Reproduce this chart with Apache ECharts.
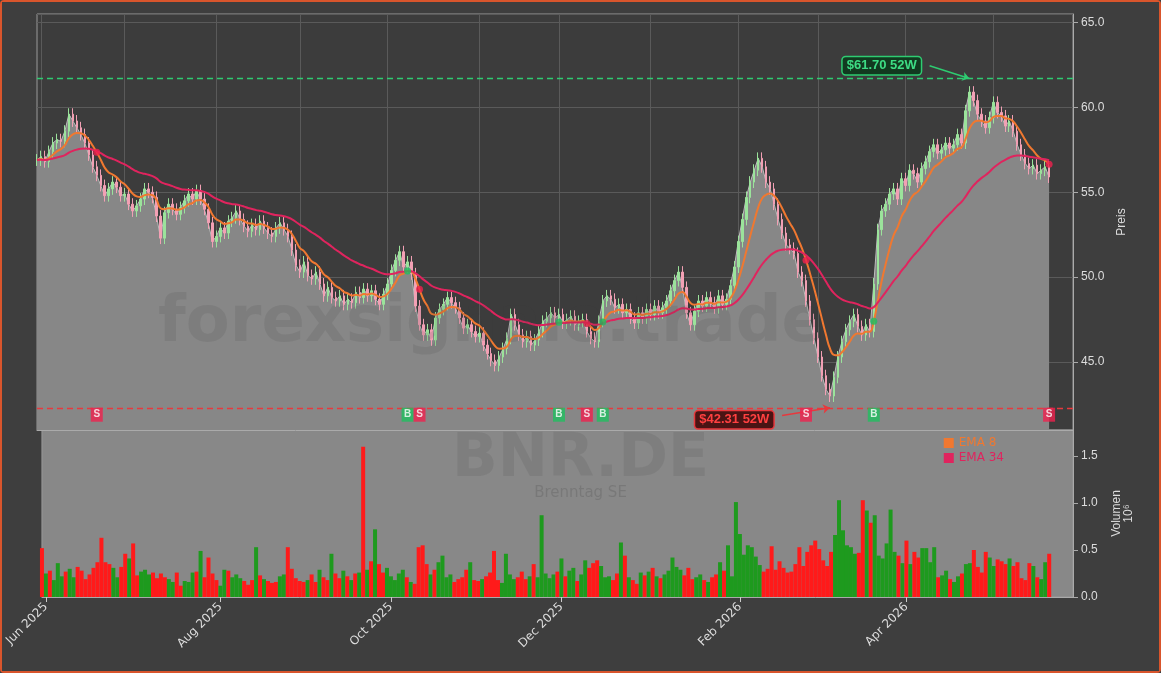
<!DOCTYPE html>
<html><head><meta charset="utf-8">
<script src="https://cdn.jsdelivr.net/npm/echarts@6/dist/echarts.min.js"></script>
<style>html,body{margin:0;padding:0;background:#3e3e3e}#c{width:1157px;height:669px;border:2px solid #d9552c;border-radius:4px}</style>
</head><body><div id="c"></div>
<script>
const closes=[56.9,57.1,56.8,57.4,57.9,58.1,58.0,58.6,59.6,59.2,
58.8,58.4,57.9,57.2,56.5,56.0,55.4,54.8,55.2,55.6,
55.3,54.8,54.9,54.3,53.9,54.2,54.6,55.2,55.0,54.7,
53.6,52.3,53.8,54.3,54.0,53.7,54.1,54.5,54.9,54.6,
55.1,54.6,54.0,53.2,52.1,52.4,52.9,52.6,53.3,53.5,
53.9,53.4,53.0,52.7,53.1,52.8,53.3,52.9,52.6,52.4,
52.9,53.2,52.8,52.4,51.6,50.7,50.3,50.9,50.1,49.9,
50.3,49.6,48.9,49.4,48.8,48.6,48.9,48.4,48.7,48.5,
49.1,48.8,49.3,48.9,49.2,48.7,48.4,49.0,49.6,50.4,
51.0,51.5,50.6,50.9,50.2,48.3,47.2,46.6,46.9,46.3,
47.6,48.1,48.4,48.8,48.5,48.2,47.6,47.0,47.2,46.8,
46.5,46.7,46.0,45.5,45.1,44.8,45.3,45.8,46.4,47.8,
47.2,46.6,46.2,46.5,46.0,46.3,46.8,47.4,47.6,47.9,
47.6,47.8,47.3,47.5,47.7,47.2,47.4,47.5,46.8,46.4,
46.2,47.4,48.6,48.9,48.7,48.2,48.4,47.9,48.1,47.6,
47.3,47.9,47.6,48.1,47.8,48.3,47.9,48.2,48.6,49.2,
49.8,50.3,49.4,47.9,47.2,48.0,48.6,48.3,48.8,48.5,
48.2,48.9,48.4,48.7,49.5,50.6,52.1,53.4,54.7,55.6,
56.3,57.0,56.5,55.6,55.2,54.3,53.4,52.6,51.9,51.7,
51.4,50.3,49.8,48.6,47.5,46.4,45.3,44.2,43.4,43.0,
44.1,45.3,46.2,46.9,47.4,47.8,47.1,46.6,47.2,46.8,
49.6,52.8,53.9,54.3,54.9,55.2,54.6,55.8,55.4,56.3,
56.1,55.6,56.4,56.8,57.4,57.8,57.3,57.5,57.9,57.6,
57.8,58.4,57.9,59.8,60.9,60.4,59.6,59.2,58.8,59.4,
60.3,59.7,59.5,58.9,59.2,58.6,57.8,57.2,56.7,56.4,
56.6,56.1,56.3,56.5,55.9];
const volumes=[0.52,0.25,0.28,0.18,0.36,0.22,0.27,0.30,0.21,0.32,
0.28,0.19,0.24,0.31,0.37,0.63,0.37,0.35,0.31,0.21,
0.32,0.46,0.41,0.57,0.23,0.27,0.29,0.24,0.26,0.20,
0.25,0.21,0.19,0.16,0.26,0.12,0.17,0.16,0.26,0.27,
0.49,0.21,0.42,0.25,0.18,0.12,0.29,0.28,0.21,0.24,
0.20,0.17,0.13,0.18,0.53,0.23,0.19,0.17,0.15,0.16,
0.22,0.24,0.53,0.30,0.20,0.17,0.16,0.18,0.24,0.16,
0.29,0.21,0.18,0.46,0.25,0.20,0.28,0.22,0.18,0.25,
0.26,1.60,0.29,0.38,0.72,0.35,0.26,0.31,0.22,0.18,
0.25,0.29,0.21,0.16,0.14,0.53,0.55,0.35,0.24,0.29,
0.37,0.44,0.21,0.24,0.16,0.19,0.21,0.29,0.37,0.18,
0.17,0.19,0.22,0.26,0.49,0.18,0.15,0.46,0.24,0.19,
0.21,0.27,0.19,0.22,0.35,0.21,0.87,0.25,0.20,0.24,
0.27,0.41,0.22,0.28,0.31,0.17,0.24,0.39,0.31,0.36,
0.39,0.33,0.21,0.22,0.18,0.25,0.58,0.44,0.21,0.18,
0.14,0.26,0.23,0.27,0.31,0.22,0.20,0.24,0.28,0.42,
0.32,0.29,0.23,0.31,0.19,0.21,0.24,0.18,0.16,0.21,
0.24,0.37,0.28,0.55,0.22,1.01,0.67,0.45,0.55,0.53,
0.43,0.34,0.27,0.30,0.54,0.29,0.38,0.31,0.26,0.27,
0.35,0.53,0.33,0.48,0.55,0.60,0.51,0.39,0.33,0.48,
0.66,1.03,0.71,0.55,0.53,0.46,0.47,1.03,0.92,0.79,
0.87,0.44,0.41,0.57,0.93,0.48,0.44,0.36,0.60,0.35,
0.48,0.42,0.52,0.52,0.37,0.53,0.21,0.23,0.28,0.19,
0.16,0.22,0.25,0.35,0.36,0.50,0.32,0.26,0.48,0.42,
0.33,0.40,0.38,0.35,0.41,0.33,0.37,0.20,0.18,0.36,
0.33,0.21,0.19,0.37,0.46];
const sigIdx=[15,93,96,131,138,142,193,210,254];
const sigType=['S','B','S','B','S','B','S','B','S'];
const high52=61.70, low52=42.31;
const startDate='2025-05-30', padDays=6;
const MONTHS=['Jan','Feb','Mar','Apr','May','Jun','Jul','Aug','Sep','Oct','Nov','Dec'];

const dates=[];let d=new Date(startDate+'T12:00:00Z');
while(dates.length<closes.length+padDays){const w=d.getUTCDay();if(w&&w<6)dates.push(new Date(d));d.setUTCDate(d.getUTCDate()+1);}
const cats=dates.map(x=>x.toISOString().slice(0,10));
const firstOfMonth=i=>i>0&&dates[i].getUTCMonth()!==dates[i-1].getUTCMonth();
const labelMonth=i=>firstOfMonth(i)&&dates[i].getUTCMonth()%2===1;

const ohlc=closes.map((c,i)=>{const o=i?closes[i-1]:c;return [o,c,Math.min(o,c)-0.35,Math.max(o,c)+0.35];});
function ema(n){const k=2/(n+1);let e=closes[0];return closes.map(c=>(e=c*k+e*(1-k),+e.toFixed(3)));}
const e8=ema(8),e34=ema(34);
const volData=volumes.map((v,i)=>({value:v,itemStyle:{color:(i&&closes[i]>=closes[i-1])?'#1e9a1e':'#ff1a1a'}}));
const sigData=sigIdx.map((ix,k)=>({value:[ix,41.9],sym:sigType[k],itemStyle:{color:sigType[k]==='B'?'#1fbf5f':'#f0204e'}}));
const dotData=sigIdx.filter(ix=>ix<closes.length).map((ix,k)=>({value:[ix,e8[ix]],itemStyle:{color:sigType[k]==='B'?'#1fbf5f':'#f0204e'}}));
const iHigh=closes.indexOf(Math.max(...closes)), iLow=closes.indexOf(Math.min(...closes));

const chart=echarts.init(document.getElementById('c'));
const xBase={type:'category',data:cats,boundaryGap:false,
 axisLine:{lineStyle:{color:'#aaa'}},
 axisTick:{show:true,interval:labelMonth,lineStyle:{color:'#ccc'}},
 splitLine:{show:true,interval:firstOfMonth,lineStyle:{color:'#5a5a5a'}}};
chart.setOption({
 backgroundColor:'#3e3e3e',animation:false,
 graphic:[
  {type:'text',left:156,top:290,z:100,silent:true,style:{text:'forexsignale.trade',font:'bold 64px DejaVu Sans',fill:'rgba(60,60,60,0.13)'}},
  {type:'text',left:'center',top:428,z:100,silent:true,style:{text:'BNR.DE',font:'bold 60px DejaVu Sans',fill:'rgba(60,60,60,0.13)'}},
  {type:'text',left:'center',top:484,z:100,silent:true,style:{text:'Brenntag SE',font:'15px DejaVu Sans',fill:'rgba(60,60,60,0.2)'}}
 ],
 legend:{right:150,top:430,orient:'vertical',itemWidth:10,itemHeight:10,itemGap:3,icon:'rect',
  data:[{name:'EMA 8',textStyle:{color:'#f07830'}},{name:'EMA 34',textStyle:{color:'#e0245e'}}],textStyle:{fontSize:12,fontFamily:'DejaVu Sans'}},
 grid:[{left:35,right:86,top:12,height:416,backgroundColor:'#3c3c3c',show:true,borderColor:'#999',borderWidth:1},
       {left:35,right:86,top:428,height:167,backgroundColor:'#888888',show:true,borderColor:'#999',borderWidth:1}],
 xAxis:[Object.assign({},xBase,{gridIndex:0,axisLabel:{show:false},axisTick:{show:false}}),
        Object.assign({},xBase,{gridIndex:1,splitLine:{show:false},axisLabel:{interval:labelMonth,rotate:45,color:'#ddd',fontSize:12,fontFamily:'DejaVu Sans',
          formatter:v=>{const t=new Date(v+'T12:00:00Z');return MONTHS[t.getUTCMonth()]+' '+t.getUTCFullYear();}}})],
 yAxis:[{gridIndex:0,position:'right',min:41,max:65.5,splitNumber:5,scale:true,name:'Preis',nameLocation:'middle',nameGap:40,nameRotate:90,
   nameTextStyle:{color:'#ddd',fontSize:12},axisLine:{show:true,lineStyle:{color:'#aaa'}},axisTick:{show:true},
   axisLabel:{color:'#ddd',fontSize:12,showMinLabel:false,showMaxLabel:false,formatter:v=>v.toFixed(1)},splitLine:{lineStyle:{color:'#5a5a5a'}}},
  {gridIndex:1,position:'right',min:0,max:1.777,interval:0.5,name:'Volumen\n10⁶',nameLocation:'middle',nameGap:38,nameRotate:90,
   nameTextStyle:{color:'#ddd',fontSize:12},axisLine:{show:true,lineStyle:{color:'#aaa'}},axisTick:{show:true},
   axisLabel:{color:'#ddd',fontSize:12,showMaxLabel:false,formatter:v=>v.toFixed(1)},splitLine:{show:false}}],
 series:[
  {type:'line',data:closes,xAxisIndex:0,yAxisIndex:0,symbol:'none',lineStyle:{color:'#bdbdbd',width:1},areaStyle:{color:'#878787',opacity:1,origin:'start'},z:1,
   markLine:{silent:true,symbol:'none',label:{show:false},data:[
     {yAxis:high52,lineStyle:{color:'#2ecc71',type:[6,4],width:1.3}},
     {yAxis:low52,lineStyle:{color:'#e8383d',type:[6,4],width:1.3}},
     [{coord:[iHigh-10,62.45],symbol:'none',lineStyle:{color:'#2ecc71',type:'solid',width:1.5}},{coord:[iHigh,high52],symbol:'arrow',symbolSize:7}],
     [{coord:[iLow-12,41.85],symbol:'none',lineStyle:{color:'#e8383d',type:'solid',width:1.5}},{coord:[iLow,low52],symbol:'arrow',symbolSize:7}]]},
   markPoint:{symbol:'rect',symbolSize:1,itemStyle:{color:'transparent'},data:[
     {coord:[iHigh-22,62.45],label:{show:true,formatter:'$'+high52.toFixed(2)+' 52W',color:'#3ddc84',fontWeight:'bold',fontSize:13,backgroundColor:'#123a20',borderColor:'#2ecc71',borderWidth:1.5,borderRadius:3,padding:[2,4]}},
     {coord:[iLow-24,41.6],label:{show:true,formatter:'$'+low52.toFixed(2)+' 52W',color:'#ff4040',fontWeight:'bold',fontSize:13,backgroundColor:'#4a1414',borderColor:'#e8383d',borderWidth:1.5,borderRadius:3,padding:[2,4]}}]}},
  {type:'candlestick',data:ohlc,xAxisIndex:0,yAxisIndex:0,barWidth:2,z:3,
   itemStyle:{color:'#9be39b',color0:'#f2a0b4',borderColor:'#9be39b',borderColor0:'#f2a0b4',borderWidth:1}},
  {name:'EMA 8',type:'line',data:e8,symbol:'none',smooth:true,lineStyle:{color:'#f07830',width:2},itemStyle:{color:'#f07830'},z:4},
  {name:'EMA 34',type:'line',data:e34,symbol:'none',smooth:true,lineStyle:{color:'#e0245e',width:2},itemStyle:{color:'#e0245e'},z:4},
  {type:'scatter',data:dotData,symbolSize:7,z:5},
  {type:'scatter',data:sigData,symbol:'rect',symbolSize:[12,14],z:5,
   label:{show:true,formatter:p=>p.data.sym,color:'#fff',fontSize:10,fontWeight:'bold'}},
  {type:'bar',data:volData,xAxisIndex:1,yAxisIndex:1,barWidth:4,barGap:'0%'}
 ]
});
</script></body></html>
